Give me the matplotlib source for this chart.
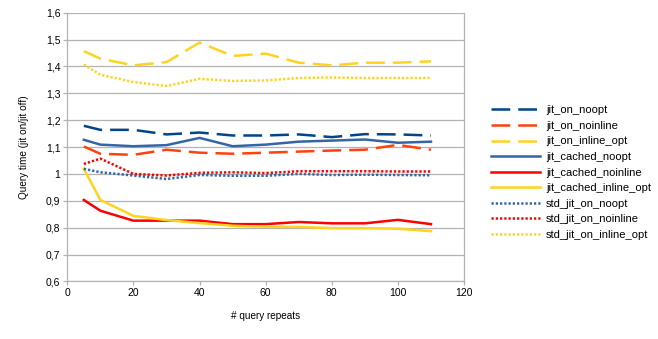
import matplotlib
matplotlib.use("Agg")
import matplotlib.pyplot as plt
from matplotlib.ticker import FuncFormatter, MultipleLocator

# --- Data ---
repeats = [5, 10, 20, 30, 40, 50, 60, 70, 80, 90, 100, 110]

jit_on_noopt = [1.179, 1.164, 1.164, 1.147, 1.154, 1.143, 1.143, 1.147, 1.137, 1.148, 1.147, 1.143]
jit_on_noinline = [1.102, 1.075, 1.071, 1.090, 1.079, 1.075, 1.079, 1.083, 1.087, 1.090, 1.108, 1.090]
jit_on_inline_opt = [1.457, 1.429, 1.404, 1.416, 1.489, 1.439, 1.448, 1.414, 1.404, 1.414, 1.414, 1.419]
jit_cached_noopt = [1.127, 1.109, 1.103, 1.107, 1.134, 1.103, 1.109, 1.120, 1.124, 1.128, 1.116, 1.120]
jit_cached_noinline = [0.903, 0.863, 0.826, 0.826, 0.826, 0.813, 0.813, 0.821, 0.816, 0.816, 0.829, 0.813]
jit_cached_inline_opt = [1.019, 0.903, 0.844, 0.828, 0.817, 0.807, 0.803, 0.803, 0.798, 0.798, 0.796, 0.787]
std_jit_on_noopt = [1.019, 1.006, 0.994, 0.981, 0.996, 0.993, 0.993, 1.000, 0.996, 0.997, 0.996, 0.995]
std_jit_on_noinline = [1.037, 1.057, 1.000, 0.994, 1.004, 1.006, 1.003, 1.010, 1.010, 1.010, 1.009, 1.009]
std_jit_on_inline_opt = [1.407, 1.369, 1.342, 1.327, 1.354, 1.346, 1.348, 1.357, 1.359, 1.357, 1.357, 1.357]

series = [
    ("jit_on_noopt", jit_on_noopt, "#004586", "dash"),
    ("jit_on_noinline", jit_on_noinline, "#ff420e", "dash"),
    ("jit_on_inline_opt", jit_on_inline_opt, "#ffd320", "dash"),
    ("jit_cached_noopt", jit_cached_noopt, "#3465a4", "solid"),
    ("jit_cached_noinline", jit_cached_noinline, "#ff0000", "solid"),
    ("jit_cached_inline_opt", jit_cached_inline_opt, "#ffd320", "solid"),
    ("std_jit_on_noopt", std_jit_on_noopt, "#3465a4", "dot"),
    ("std_jit_on_noinline", std_jit_on_noinline, "#ff0000", "dot"),
    ("std_jit_on_inline_opt", std_jit_on_inline_opt, "#ffd320", "dot"),
]

plt.rcParams['font.family'] = ['Liberation Sans', 'DejaVu Sans']
grey = "#b3b3b3"

fig = plt.figure(figsize=(6.58, 3.39), dpi=100)
ax = fig.add_axes([0.1023, 0.170, 0.6029, 0.7925])

lw = 1.8
for name, vals, color, style in series:
    line, = ax.plot(repeats, vals, color=color, lw=lw, label=name,
                    solid_joinstyle="round", dash_joinstyle="round")
    if style == "dash":
        line.set_dashes((7.5, 3.2))
    elif style == "dot":
        line.set_dashes((0.9, 0.8))
        line.set_dash_capstyle("butt")

ax.set_xlim(0, 120)
ax.set_ylim(0.6, 1.6)
ax.xaxis.set_major_locator(MultipleLocator(20))
ax.yaxis.set_major_locator(MultipleLocator(0.1))
ax.yaxis.set_major_formatter(FuncFormatter(lambda v, p: f"{round(v, 1):g}".replace(".", ",")))

ax.grid(axis="y", color=grey, lw=0.9)
ax.set_axisbelow(True)
for side in ["left", "bottom", "right"]:
    ax.spines[side].set_color(grey)
    ax.spines[side].set_linewidth(0.9)
ax.spines["top"].set_visible(False)
ax.tick_params(axis="both", colors=grey, length=3, width=0.9, labelsize=7.5,
               labelcolor="#000000", pad=2)

ax.set_xlabel("# query repeats", fontsize=7.2, labelpad=9)
ax.set_ylabel("Query time (jit on/jit off)", fontsize=7.2, labelpad=12)

ax.legend(loc="center left", bbox_to_anchor=(1.043, 0.405), frameon=False,
          fontsize=8, handlelength=4.4, handletextpad=0.55, labelspacing=0.5)

fig.savefig("out.png", dpi=100)
